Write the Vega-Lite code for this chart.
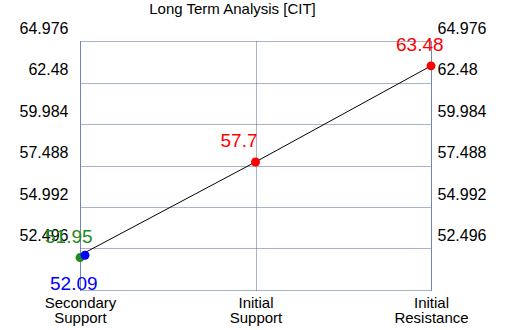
{
  "$schema": "https://vega.github.io/schema/vega-lite/v6.json",
  "width": 351,
  "height": 249,
  "autosize": {"type": "none"},
  "padding": {"left": 80, "top": 41, "right": 79, "bottom": 40},
  "background": "white",
  "config": {"view": {"stroke": null}, "font": "Liberation Sans"},
  "title": {"text": "Long Term Analysis [CIT]", "fontSize": 15, "font": "Liberation Sans", "fontWeight": "normal", "color": "#000000", "anchor": "middle", "baseline": "alphabetic", "offset": 6, "dx": -23, "dy": 15},
  "data": {"values": [
    {"level": "Secondary Support", "price": 51.95, "series": "S2"},
    {"level": "Secondary Support", "price": 52.09, "series": "S1"},
    {"level": "Initial Support", "price": 57.7, "series": "R1"},
    {"level": "Initial Resistance", "price": 63.48, "series": "R2"}
  ]},
  "encoding": {
    "x": {"field": "level", "type": "nominal", "sort": ["Secondary Support", "Initial Support", "Initial Resistance"],
      "scale": {"type": "point", "padding": 0},
      "axis": {"title": null, "labelAngle": 0, "labelFontSize": 15, "labelFont": "Liberation Sans", "labelColor": "#000000", "labelExpr": "split(datum.label, ' ')", "labelLineHeight": 15, "labelPadding": 5, "labelBaseline": "top", "ticks": false, "domain": false, "grid": true, "gridColor": "#55698f", "gridDash": [1, 1], "gridWidth": 1, "gridOpacity": 1, "labelFlush": false, "labelOverlap": false}},
    "y": {"field": "price", "type": "quantitative",
      "scale": {"domain": [50, 64.976], "nice": false, "zero": false},
      "axis": null}
  },
  "layer": [
    {
      "transform": [{"filter": "datum.series != 'S2'"}],
      "mark": {"type": "line", "color": "#000000", "strokeWidth": 1},
      "encoding": {
        "order": {"field": "price", "type": "quantitative"},
        "y": {"field": "price", "type": "quantitative",
          "scale": {"domain": [50, 64.976], "nice": false, "zero": false},
          "axis": {"title": null, "orient": "left", "values": [50, 52.496, 54.992, 57.488, 59.984, 62.48, 64.976], "labelExpr": "datum.value == 50 ? '' : format(datum.value, '.3~f')", "labelFontSize": 16, "labelFont": "Liberation Sans", "labelColor": "#000000", "labelPadding": 12, "labelBaseline": "alphabetic", "labelOffset": -8, "labelFlush": false, "labelOverlap": false, "ticks": false, "domain": true, "domainColor": "#7088b0", "domainWidth": 1, "grid": true, "gridColor": "#55698f", "gridDash": [1, 1], "gridWidth": 1, "gridOpacity": 1}}
      }
    },
    {
      "transform": [{"filter": "datum.series != 'S1'"}],
      "mark": {"type": "point", "filled": true, "size": 80, "opacity": 1},
      "encoding": {
        "y": {"field": "price", "type": "quantitative",
          "scale": {"domain": [50, 64.976], "nice": false, "zero": false},
          "axis": {"title": null, "orient": "right", "values": [50, 52.496, 54.992, 57.488, 59.984, 62.48, 64.976], "labelExpr": "datum.value == 50 ? '' : format(datum.value, '.3~f')", "labelFontSize": 16, "labelFont": "Liberation Sans", "labelColor": "#000000", "labelPadding": 6, "labelBaseline": "alphabetic", "labelOffset": -8, "labelFlush": false, "labelOverlap": false, "ticks": false, "domain": true, "domainColor": "#7088b0", "domainWidth": 1, "grid": false}},
        "color": {"field": "series", "type": "nominal", "scale": {"domain": ["S2", "S1", "R1", "R2"], "range": ["#228b22", "#0000ff", "#ff0000", "#ff0000"]}, "legend": null}
      }
    },
    {
      "transform": [{"filter": "datum.series == 'S1'"}],
      "mark": {"type": "point", "filled": true, "size": 80, "opacity": 1, "xOffset": 5},
      "encoding": {
        "color": {"field": "series", "type": "nominal", "legend": null}
      }
    },
    {
      "transform": [{"filter": "datum.series != 'S1'"}],
      "mark": {"type": "text", "align": "left", "baseline": "alphabetic", "dx": -35, "dy": -15, "fontSize": 19, "font": "Liberation Sans"},
      "encoding": {
        "text": {"field": "price", "type": "quantitative", "format": "~g"},
        "color": {"field": "series", "type": "nominal", "legend": null}
      }
    },
    {
      "transform": [{"filter": "datum.series == 'S1'"}],
      "mark": {"type": "text", "align": "left", "baseline": "alphabetic", "dx": -30, "dy": 35, "fontSize": 19, "font": "Liberation Sans"},
      "encoding": {
        "text": {"field": "price", "type": "quantitative", "format": "~g"},
        "color": {"field": "series", "type": "nominal", "legend": null}
      }
    }
  ],
  "resolve": {"axis": {"y": "independent"}}
}
